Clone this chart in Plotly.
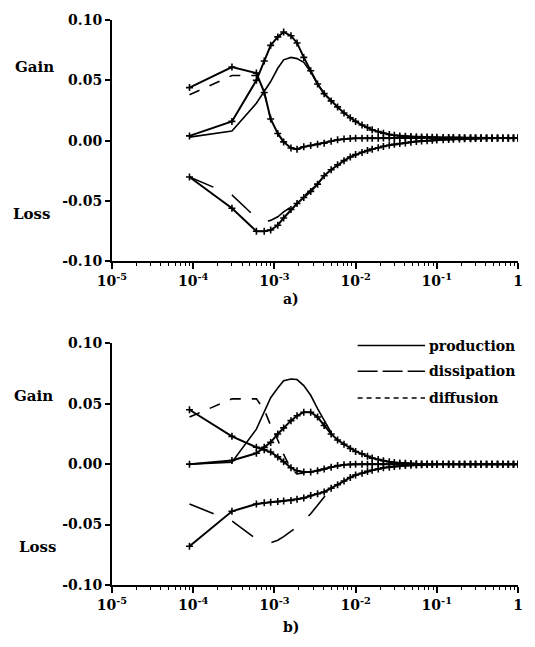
import plotly.graph_objects as go

# ---------------- data ----------------
K = [9e-5, 3e-4, 6e-4, 7.5e-4, 9e-4, 1.1e-3, 1.3e-3, 1.6e-3, 1.9e-3, 2.3e-3,
     2.8e-3, 3.4e-3, 4.1e-3, 5.0e-3, 6.0e-3, 7.2e-3, 8.6e-3, 1.0e-2, 1.2e-2, 1.4e-2,
     1.6e-2, 1.9e-2, 2.2e-2, 2.6e-2, 3.0e-2, 3.5e-2, 4.1e-2, 4.8e-2, 5.6e-2, 6.5e-2,
     7.6e-2, 8.8e-2, 0.10, 0.12, 0.14, 0.16, 0.19, 0.22, 0.26, 0.30,
     0.35, 0.41, 0.48, 0.56, 0.65, 0.76, 0.88, 1.0]
K_MODEL = K[:14]

# panel a)
a_prod = [0.004, 0.016, 0.050, 0.066, 0.079, 0.086, 0.090, 0.087, 0.081, 0.069,
          0.058, 0.047, 0.039, 0.033, 0.028, 0.023, 0.019, 0.016, 0.013, 0.011,
          0.009, 0.0075, 0.0062, 0.0052, 0.0045, 0.004, 0.0036, 0.0034, 0.0032, 0.003,
          0.003, 0.0029, 0.0028, 0.0027, 0.0027, 0.0026, 0.0026, 0.0025, 0.0025, 0.0024,
          0.0024, 0.0023, 0.0023, 0.0023, 0.0022, 0.0022, 0.0022, 0.0022]
a_diff = [0.044, 0.061, 0.056, 0.040, 0.018, 0.006, -0.001, -0.006, -0.007, -0.005,
          -0.004, -0.003, -0.002, -0.0005, 0.0008, 0.0014, 0.0018, 0.0020, 0.0020, 0.0021,
          0.0021, 0.0021, 0.0022, 0.0022, 0.0022, 0.0022, 0.0022, 0.0022, 0.0022, 0.0022,
          0.0022, 0.0022, 0.0022, 0.0022, 0.0022, 0.0022, 0.0022, 0.0022, 0.0022, 0.0022,
          0.0022, 0.0022, 0.0022, 0.0022, 0.0022, 0.0022, 0.0022, 0.0022]
a_diss = [-0.030, -0.056, -0.075, -0.075, -0.074, -0.070, -0.064, -0.057, -0.052, -0.047,
          -0.042, -0.036, -0.029, -0.024, -0.020, -0.0165, -0.0135, -0.0115, -0.0097, -0.0082,
          -0.007, -0.0058, -0.0047, -0.0037, -0.003, -0.0023, -0.0018, -0.0012, -0.0007, -0.0003,
          0.0, 0.0003, 0.0006, 0.0009, 0.0011, 0.0013, 0.0015, 0.0016, 0.0017, 0.0018,
          0.0019, 0.002, 0.002, 0.0021, 0.0021, 0.0021, 0.0022, 0.0022]
a_prod_model = [0.003, 0.008, 0.031, 0.041, 0.049, 0.060, 0.067, 0.069, 0.068, 0.065,
                0.057, 0.047, 0.039, 0.033]
a_diss_model = [-0.030, -0.045, -0.064, -0.067, -0.066, -0.063, -0.059, -0.055, -0.050, -0.046,
                -0.041, -0.036, -0.029, -0.024]
a_diff_model = [0.038, 0.054, 0.054, 0.040, 0.018, 0.006, -0.001, -0.006, -0.007, -0.005,
                -0.004, -0.003, -0.002, -0.0005]

# panel b)
b_prod = [0.000, 0.003, 0.009, 0.014, 0.018, 0.025, 0.030, 0.036, 0.040, 0.043,
          0.043, 0.039, 0.032, 0.025, 0.020, 0.0165, 0.013, 0.0105, 0.0085, 0.0065,
          0.005, 0.0038, 0.0028, 0.002, 0.0014, 0.001, 0.0007, 0.0005, 0.0003, 0.0002,
          0.0001, 0.0001, 0.0, 0.0, 0.0, 0.0, 0.0, 0.0, 0.0, 0.0,
          0.0, 0.0, 0.0, 0.0, 0.0, 0.0, 0.0, 0.0]
b_diff = [0.045, 0.023, 0.014, 0.012, 0.010, 0.006, 0.002, -0.003, -0.0055, -0.0065,
          -0.0065, -0.0055, -0.004, -0.0025, -0.0012, -0.0005, -0.0002, 0.0, 0.0, 0.0,
          0.0, 0.0, 0.0, 0.0, 0.0, 0.0, 0.0, 0.0, 0.0, 0.0,
          0.0, 0.0, 0.0, 0.0, 0.0, 0.0, 0.0, 0.0, 0.0, 0.0,
          0.0, 0.0, 0.0, 0.0, 0.0, 0.0, 0.0, 0.0]
b_diss = [-0.068, -0.039, -0.033, -0.032, -0.0315, -0.031, -0.0305, -0.030, -0.029, -0.028,
          -0.026, -0.0245, -0.023, -0.020, -0.017, -0.014, -0.011, -0.009, -0.0075, -0.006,
          -0.005, -0.004, -0.003, -0.0025, -0.002, -0.0015, -0.0012, -0.001, -0.0007, -0.0005,
          -0.0003, -0.0002, -0.0001, 0.0, 0.0, 0.0, 0.0, 0.0, 0.0, 0.0,
          0.0, 0.0, 0.0, 0.0, 0.0, 0.0, 0.0, 0.0]
b_prod_model = [0.000, 0.0015, 0.029, 0.043, 0.055, 0.063, 0.069, 0.0705, 0.070, 0.065,
                0.057, 0.046, 0.036, 0.026]
b_diss_model = [-0.033, -0.047, -0.062, -0.065, -0.065, -0.063, -0.060, -0.056, -0.052, -0.047,
                -0.041, -0.034, -0.027, -0.020]
b_diff_model = [0.039, 0.054, 0.054, 0.045, 0.032, 0.020, 0.008, -0.004, -0.008, -0.0075,
                -0.0065, -0.0055, -0.004, -0.0025]

LEGEND_NAMES = ["production", "dissipation", "diffusion"]
X_TICKS = [1e-5, 1e-4, 1e-3, 1e-2, 1e-1, 1]
X_TICK_TEXT = ["10<sup>-5</sup>", "10<sup>-4</sup>", "10<sup>-3</sup>",
               "10<sup>-2</sup>", "10<sup>-1</sup>", "1"]
Y_TICKS = [-0.10, -0.05, 0.0, 0.05, 0.10]
Y_TICK_TEXT = ["-0.10", "-0.05", "0.00", "0.05", "0.10"]

# ---------------- styling ----------------
FONT = dict(family="DejaVu Serif", size=14, color="black", weight="bold")
DASH_DISS = "26px,20px"
DASH_DIFF = "11px,11px"

fig = go.Figure()


def data_line(x, y, xa, ya):
    fig.add_trace(go.Scatter(
        x=x, y=y, xaxis=xa, yaxis=ya, mode="lines+markers", showlegend=False,
        line=dict(color="black", width=2),
        marker=dict(symbol="cross-thin-open", size=5, line=dict(color="black", width=1.6)),
    ))


def model_line(x, y, xa, ya, dash):
    fig.add_trace(go.Scatter(
        x=x, y=y, xaxis=xa, yaxis=ya, mode="lines", showlegend=False,
        line=dict(color="black", width=1.6, dash=dash),
    ))


# panel a
model_line(K_MODEL, a_prod_model, "x", "y", "solid")
model_line(K_MODEL, a_diss_model, "x", "y", DASH_DISS)
model_line(K_MODEL, a_diff_model, "x", "y", DASH_DIFF)
data_line(K, a_prod, "x", "y")
data_line(K, a_diff, "x", "y")
data_line(K, a_diss, "x", "y")

# panel b
model_line(K_MODEL, b_prod_model, "x2", "y2", "solid")
model_line(K_MODEL, b_diss_model, "x2", "y2", DASH_DISS)
model_line(K_MODEL, b_diff_model, "x2", "y2", DASH_DIFF)
data_line(K, b_prod, "x2", "y2")
data_line(K, b_diff, "x2", "y2")
data_line(K, b_diss, "x2", "y2")

minor_vals = [m * 10.0 ** e for e in range(-5, 0) for m in range(2, 10)]

xax = dict(
    type="log", range=[-5, 0], tickmode="array", tickvals=X_TICKS, ticktext=X_TICK_TEXT,
    ticks="outside", ticklen=6, tickwidth=1.5, tickcolor="black",
    showline=True, linecolor="black", linewidth=2, showgrid=False, zeroline=False,
    tickfont=FONT,
    minor=dict(tickmode="array", tickvals=minor_vals, ticks="outside", ticklen=3,
               tickwidth=1.2, tickcolor="black", showgrid=False),
)
yax = dict(
    range=[-0.1, 0.1], tickmode="array", tickvals=Y_TICKS, ticktext=Y_TICK_TEXT,
    ticks="outside", ticklen=5, tickwidth=1.5, tickcolor="black",
    showline=True, linecolor="black", linewidth=2, showgrid=False, zeroline=False,
    tickfont=FONT,
)

fig.update_layout(
    width=535, height=647,
    margin=dict(l=112, r=13, t=14, b=62),
    paper_bgcolor="white", plot_bgcolor="white",
    showlegend=False,
    xaxis=dict(xax, domain=[0, 1], anchor="y"),
    yaxis=dict(yax, domain=[0.5727, 1.0], anchor="x"),
    xaxis2=dict(xax, domain=[0, 1], anchor="y2"),
    yaxis2=dict(yax, domain=[0.0, 0.4278], anchor="x2"),
)

LABEL_FONT = dict(FONT, size=15)
ann = []
for txt, x, y in [("Gain", -0.190, 0.916), ("Loss", -0.198, 0.657),
                  ("Gain", -0.193, 0.3345), ("Loss", -0.183, 0.0665)]:
    ann.append(dict(text=txt, x=x, y=y, xref="paper", yref="paper", showarrow=False,
                    xanchor="center", yanchor="middle", font=LABEL_FONT))
for txt, x, y in [("a)", 0.441, 0.506), ("b)", 0.441, -0.0736)]:
    ann.append(dict(text=txt, x=x, y=y, xref="paper", yref="paper", showarrow=False,
                    xanchor="center", yanchor="middle", font=FONT))

# legend (drawn by hand to match the long line samples)
leg_y = [0.4238, 0.3783, 0.331]
leg_dash = ["solid", "20px,5px", "5px,4px"]
shapes = []
for name, y, d in zip(LEGEND_NAMES, leg_y, leg_dash):
    shapes.append(dict(type="line", xref="paper", yref="paper", x0=0.605, x1=0.771,
                       y0=y, y1=y, line=dict(color="black", width=1.6, dash=d)))
    ann.append(dict(text=name, x=0.775, y=y, xref="paper", yref="paper", showarrow=False,
                    xanchor="left", yanchor="middle", font=dict(FONT, size=14)))

fig.update_layout(annotations=ann, shapes=shapes)

# remove the browser's default body margin so the 535x647 figure fills the window
fig.write_html("out.html", config={"displayModeBar": False},
               post_script="document.body.style.margin='0';")
